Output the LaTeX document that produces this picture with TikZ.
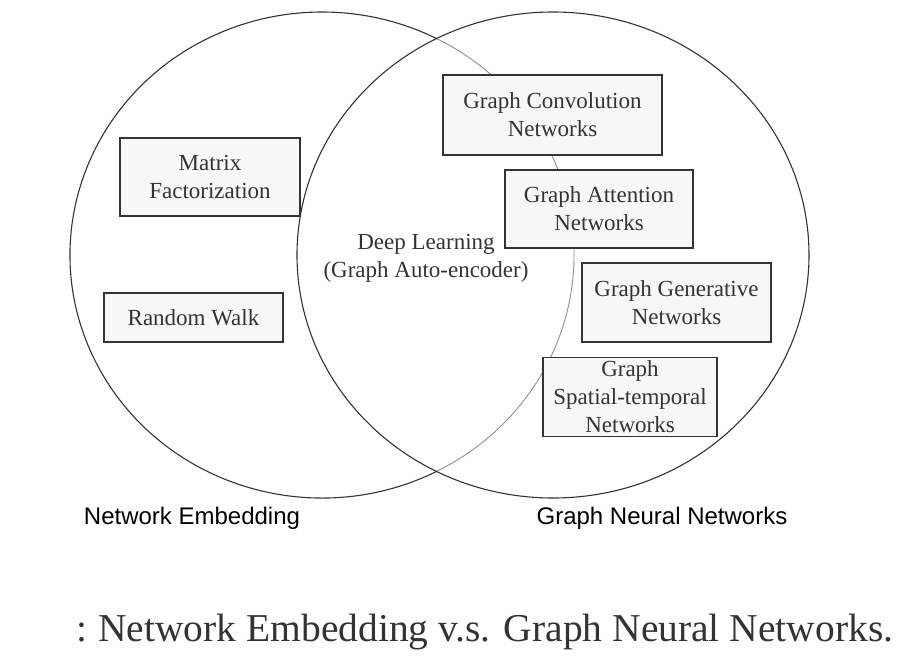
\documentclass[tikz,border=0pt]{standalone}
\usepackage{fontspec}
\setmainfont{Liberation Serif}
\setsansfont{Liberation Sans}
\definecolor{inkgray}{HTML}{333333}
\definecolor{arcgray}{HTML}{8F8F8F}
\definecolor{boxfill}{HTML}{F7F7F7}

\begin{document}
\begin{tikzpicture}[x=1pt,y=-1pt,
    mbox/.style={draw=inkgray,fill=boxfill,line width=1.3pt,align=center,
    font=\fontsize{23}{28}\selectfont,text=inkgray,inner sep=0pt},
    setlabel/.style={font=\sffamily\fontsize{24}{28}\selectfont,text=black}]
 \useasboundingbox (0,0) rectangle (916,672);
 % the two sets
 \draw[inkgray,line width=1.1pt] (322,255) ++(63:252 and 243)
  arc[start angle=63,end angle=297,x radius=252,y radius=243];
 \draw[arcgray,line width=0.9pt] (322,255) ++(-63:252 and 243)
  arc[start angle=-63,end angle=63,x radius=252,y radius=243];
 \draw[inkgray,line width=1.1pt] (553,255) ellipse[x radius=256,y radius=243];
 % network embedding side
 \node[mbox,minimum width=180,minimum height=78] (MF) at (210,177)
  {Matrix\\Factorization};
 \node[mbox,minimum width=179,minimum height=49] (RW) at (193.5,317.5)
  {Random Walk};
 % overlap
 \node[align=center,font=\fontsize{23}{28}\selectfont,text=inkgray] (DL) at (426,258)
  {Deep Learning\\(Graph Auto-encoder)};
 % graph neural network side
 \node[mbox,minimum width=219,minimum height=80] (GCN) at (552.5,115)
  {Graph Convolution\\Networks};
 \node[mbox,minimum width=188,minimum height=78] (GAT) at (599,209)
  {Graph Attention\\Networks};
 \node[mbox,minimum width=189,minimum height=79] (GGN) at (676.5,302.5)
  {Graph Generative\\Networks};
 \node[mbox,minimum width=174,minimum height=79] (GST) at (630,397)
  {Graph\\Spatial-temporal\\Networks};
 % set names and caption
 \node[setlabel] (NE) at (192,518) {Network Embedding};
 \node[setlabel] (GNN) at (662,518) {Graph Neural Networks};
 \node[anchor=base west,font=\fontsize{39.5}{48}\selectfont,text=inkgray,inner sep=0pt] (CAP) at (76,641)
  {:\kern-2pt{} Network Embedding v.s. Graph Neural Networks.};
\end{tikzpicture}
\end{document}
